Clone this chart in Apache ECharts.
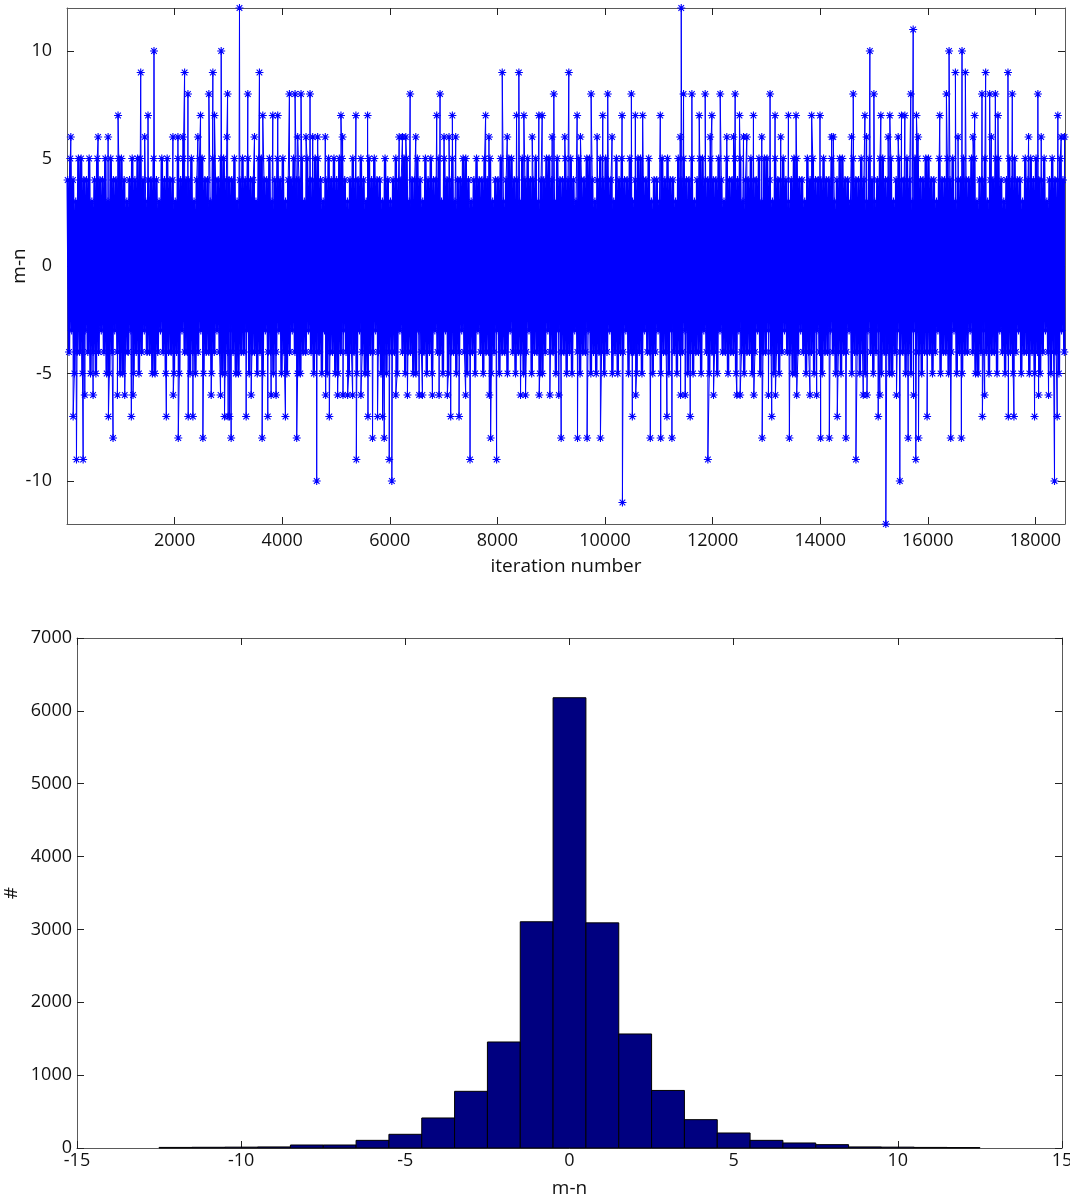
<!DOCTYPE html>
<html>
<head>
<meta charset="utf-8">
<script src="https://cdn.jsdelivr.net/npm/echarts@6/dist/echarts.min.js"></script>
<style>
html,body{margin:0;padding:0;background:#fff;}
#main{width:1070px;height:1201px;}
</style>
</head>
<body>
<div id="main"></div>
<script>
// ---- top panel: m-n per iteration ----
// band envelope, one hi / lo pair per block of 50 iterations
var BLOCK = 50;
var bandHi = [
4,5,4,3,5,5,4,4,5,3,4,5,4,4,5,3,5,4,4,5,
5,4,3,4,5,4,5,5,4,3,4,4,5,4,3,5,4,5,4,4,
3,5,4,5,4,4,5,3,4,5,5,4,4,3,5,4,4,5,5,4,
4,4,5,3,4,5,4,5,4,4,3,5,5,4,4,5,3,4,5,4,
5,3,4,4,5,4,4,5,3,5,4,4,5,5,4,3,4,5,4,5,
4,5,5,4,3,4,5,4,4,5,4,3,5,4,5,4,4,3,5,4,
3,4,5,4,4,5,5,3,4,4,5,4,3,5,4,5,4,4,5,3,
5,4,4,5,3,4,4,5,5,4,3,4,5,4,4,5,4,5,3,4,
4,5,3,4,5,5,4,4,3,5,4,5,4,4,5,3,4,4,5,5,
4,3,5,4,4,5,4,5,4,3,5,4,4,5,5,4,3,4,5,4,
5,4,4,3,5,4,5,4,4,5,3,4,5,5,4,4,5,3,4,4,
3,5,4,5,4,4,3,5,4,5,4,4,5,3,4,5,5,4,4,5,
4,4,5,4,3,5,4,4,5,4,5,3,4,4,5,4,4,5,3,5,
5,4,3,5,4,4,5,4,3,4,5,5,4,4,3,5,4,5,4,4,
4,5,4,4,5,3,4,5,5,4,4,3,5,4,4,5,4,3,5,4,
3,4,5,5,4,4,5,3,4,5,4,4,5,4,3,5,5,4,4,5,
5,4,4,3,5,4,4,5,4,5,3,4,4,5,4,4,5,5,3,4,
4,5,3,4,4,5,5,4,3,4,5,4,5,4,4,3,5,4,5,4,
5,4,4,5,3,4,5,4,4,5,4
];
var bandLo = [
-4,-3,-5,-4,-4,-5,-3,-4,-5,-4,-5,-4,-3,-4,-5,-5,-4,-3,-4,-5,
-5,-4,-4,-3,-5,-4,-5,-4,-3,-4,-4,-5,-5,-4,-3,-4,-5,-4,-4,-5,
-4,-5,-3,-4,-4,-5,-4,-5,-4,-3,-5,-4,-4,-5,-4,-3,-4,-5,-5,-4,
-3,-4,-5,-5,-4,-4,-3,-5,-4,-4,-5,-4,-5,-3,-4,-4,-5,-4,-3,-5,
-4,-5,-4,-3,-4,-5,-5,-4,-4,-3,-4,-5,-4,-4,-5,-3,-5,-4,-4,-5,
-5,-4,-3,-4,-5,-4,-4,-5,-3,-4,-5,-5,-4,-4,-3,-4,-5,-4,-5,-4,
-4,-4,-5,-3,-4,-5,-4,-4,-5,-5,-3,-4,-4,-5,-4,-5,-3,-4,-4,-5,
-3,-5,-4,-4,-5,-4,-3,-4,-5,-4,-4,-5,-3,-4,-5,-4,-4,-5,-4,-3,
-5,-4,-4,-5,-3,-4,-5,-4,-4,-5,-4,-3,-5,-4,-4,-5,-5,-4,-3,-4,
-4,-5,-3,-4,-4,-5,-4,-5,-3,-4,-5,-4,-4,-3,-5,-4,-5,-4,-4,-5,
-4,-3,-5,-4,-5,-4,-4,-3,-5,-4,-4,-5,-4,-5,-3,-4,-4,-5,-4,-3,
-5,-4,-4,-5,-3,-4,-5,-4,-4,-3,-5,-4,-5,-4,-4,-5,-3,-4,-5,-4,
-4,-5,-3,-4,-4,-5,-4,-4,-5,-3,-4,-5,-4,-4,-5,-4,-3,-5,-4,-4,
-3,-4,-5,-4,-5,-4,-3,-4,-4,-5,-5,-4,-3,-4,-5,-4,-4,-5,-3,-4,
-5,-4,-4,-3,-4,-5,-4,-5,-4,-4,-3,-5,-4,-4,-5,-4,-5,-3,-4,-5,
-4,-3,-5,-4,-4,-5,-5,-4,-3,-4,-4,-5,-4,-5,-3,-4,-4,-5,-4,-4,
-4,-5,-4,-3,-5,-4,-4,-5,-4,-3,-5,-4,-5,-4,-4,-3,-4,-5,-5,-4,
-3,-4,-5,-4,-4,-5,-3,-4,-5,-4,-4,-5,-4,-3,-5,-4,-4,-5,-4,-5,
-4,-5,-4,-3,-4,-5,-4,-4,-5,-3,-4
];
// isolated excursions [iteration, m-n]
var spikesUp = [
[71,6],[578,6],[764,6],[949,7],[1370,9],[1444,6],[1506,7],[1617,10],[1969,6],[2062,6],
[2155,6],[2186,9],[2248,8],[2433,6],[2482,7],[2637,8],[2711,9],[2742,7],[2866,10],[2971,6],
[2985,8],[3206,12],[3361,8],[3485,6],[3577,9],[3639,7],[3825,7],[3917,7],[4134,8],[4239,8],
[4288,6],[4350,8],[4443,6],[4517,8],[4567,6],[4659,6],[4801,6],[5092,7],[5123,6],[5370,7],
[5587,7],[6174,6],[6235,6],[6297,6],[6378,8],[6483,6],[6872,7],[6934,8],[7008,6],[7101,6],
[7163,7],[7225,6],[7781,7],[7843,6],[8090,9],[8183,6],[8356,7],[8399,9],[8492,7],[8647,6],
[8770,7],[8832,7],[9018,6],[9049,8],[9253,6],[9327,9],[9482,7],[9544,6],[9742,8],[9853,6],
[9958,7],[10051,8],[10131,6],[10317,7],[10490,8],[10564,7],[10700,7],[11028,7],[11398,6],[11417,12],
[11460,8],[11615,8],[11751,7],[11862,8],[11955,6],[11986,7],[12141,8],[12264,6],[12388,6],[12419,8],
[12500,7],[12574,6],[12636,6],[12759,7],[12914,6],[13068,8],[13161,7],[13266,6],[13409,7],[13551,7],
[13841,7],[13996,7],[14212,6],[14243,6],[14583,6],[14614,8],[14831,7],[14862,6],[14923,10],[14998,8],
[15127,7],[15263,6],[15294,7],[15449,6],[15511,7],[15573,7],[15684,8],[15728,11],[15789,7],[15820,6],
[16222,7],[16346,8],[16395,10],[16513,9],[16562,6],[16636,10],[16698,9],[16840,6],[16871,7],[17007,8],
[17075,9],[17150,8],[17181,6],[17255,8],[17304,7],[17490,9],[17570,8],[17873,6],[18046,8],[18108,6],
[18417,7],[18479,6],[18541,6]
];
var spikesDown = [
[114,-7],[176,-9],[300,-9],[331,-6],[485,-6],[770,-7],[856,-8],[937,-6],[1073,-6],[1196,-7],
[1227,-6],[1846,-7],[1975,-6],[2068,-8],[2253,-7],[2340,-7],[2526,-8],[2680,-6],[2854,-6],[2928,-7],
[2996,-7],[3021,-7],[3051,-8],[3330,-7],[3423,-6],[3627,-8],[3732,-7],[3794,-6],[3886,-6],[4060,-7],
[4270,-8],[4641,-10],[4808,-6],[4876,-7],[5030,-6],[5130,-6],[5216,-6],[5309,-6],[5378,-9],[5463,-6],
[5594,-7],[5679,-8],[5772,-7],[5865,-7],[5896,-8],[5989,-9],[6038,-10],[6112,-6],[6328,-6],[6545,-6],
[6606,-6],[6792,-6],[6916,-6],[7070,-6],[7132,-7],[7287,-7],[7410,-6],[7491,-9],[7850,-6],[7874,-8],
[7985,-9],[8430,-6],[8523,-6],[8777,-6],[8975,-6],[9141,-6],[9185,-8],[9489,-8],[9667,-8],[9915,-8],
[10324,-11],[10508,-7],[10571,-6],[10842,-8],[11035,-8],[11151,-7],[11244,-8],[11405,-6],[11491,-6],[11584,-7],
[11912,-9],[12017,-6],[12450,-6],[12512,-6],[12766,-6],[12921,-8],[13038,-6],[13099,-7],[13168,-6],[13427,-8],
[13563,-6],[13810,-6],[13934,-6],[14008,-8],[14169,-8],[14317,-7],[14478,-8],[14664,-9],[14800,-6],[14869,-6],
[15078,-7],[15109,-6],[15220,-12],[15418,-6],[15480,-10],[15635,-8],[15735,-6],[15777,-9],[15827,-8],[15987,-7],
[16426,-8],[16624,-8],[17014,-7],[17057,-6],[17497,-7],[17601,-7],[17984,-7],[18059,-6],[18244,-6],[18355,-10],
[18405,-7]
];
var iterTicks = [2000,4000,6000,8000,10000,12000,14000,16000,18000];
var mnTicks = [-10,-5,0,5,10];

// ---- bottom panel: histogram of m-n ----
var histBins = [-12,-11,-10,-9,-8,-7,-6,-5,-4,-3,-2,-1,0,1,2,3,4,5,6,7,8,9,10,11,12];
var histCounts = [8,10,12,15,41,41,105,188,412,778,1455,3105,6180,3090,1565,790,389,206,105,69,46,15,12,8,6];

var bandPts = [];
bandHi.forEach(function(v, i){
    bandPts.push([i*BLOCK + 12, v]);
    bandPts.push([i*BLOCK + 37, bandLo[i]]);
});
var pts = bandPts.slice();
spikesUp.concat(spikesDown).forEach(function(p){ pts.push([p[0], p[1]]); });
pts.sort(function(a, b){ return a[0] - b[0]; });

var histData = histBins.map(function(b, i){ return [b, histCounts[i]]; });

var FONT = '"Open Sans", "DejaVu Sans", sans-serif';
var frame = '#5a5a5a';
function plain(v){ return String(v); }
function tick(vals){
    var t = {show: true, inside: true, length: 7, lineStyle: {color: '#222'}};
    if (vals) t.customValues = vals;
    return t;
}
function label(margin, vals){
    var l = {color: '#111', fontFamily: FONT, fontSize: 18, margin: margin, formatter: plain};
    if (vals) l.customValues = vals;
    return l;
}
function axisCommon(extra){
    var o = {
        axisLine: {show: true, onZero: false, lineStyle: {color: frame, width: 1}},
        axisTick: tick(),
        splitLine: {show: false},
        axisLabel: {show: false},
        nameMoveOverlap: false,
        nameTextStyle: {color: '#111', fontFamily: FONT, fontSize: 19}
    };
    for (var k in extra) o[k] = extra[k];
    return o;
}
function trace(points, width){
    return function(params, api){
        return {
            type: 'polyline',
            shape: {points: points.map(function(p){ return api.coord(p); })},
            style: {stroke: '#0000ff', lineWidth: width, fill: null}
        };
    };
}
var asterisk = 'path://M5,0L5,10M0,5L10,5M1.5,1.5L8.5,8.5M1.5,8.5L8.5,1.5';

var myChart = echarts.init(document.getElementById('main'));
var option = {
    animation: false,
    backgroundColor: '#fff',
    grid: [
        {left: 67, right: 5, top: 8, height: 516, outerBoundsMode: 'none'},
        {left: 77, right: 8, top: 638, height: 510, outerBoundsMode: 'none'}
    ],
    xAxis: [
        axisCommon({gridIndex: 0, type: 'value', min: 0, max: 18550, position: 'bottom',
            name: 'iteration number', nameLocation: 'middle', nameGap: 33,
            axisTick: tick(iterTicks), axisLabel: label(8, iterTicks)}),
        axisCommon({gridIndex: 0, type: 'value', min: 0, max: 18550, position: 'top',
            axisTick: tick(iterTicks)}),
        axisCommon({gridIndex: 1, type: 'value', min: -15, max: 15, interval: 5, position: 'bottom',
            name: 'm-n', nameLocation: 'middle', nameGap: 31,
            axisLabel: label(4)}),
        axisCommon({gridIndex: 1, type: 'value', min: -15, max: 15, interval: 5, position: 'top'})
    ],
    yAxis: [
        axisCommon({gridIndex: 0, type: 'value', min: -12, max: 12, position: 'left',
            name: 'm-n', nameLocation: 'middle', nameGap: 38,
            axisTick: tick(mnTicks), axisLabel: label(15, mnTicks)}),
        axisCommon({gridIndex: 0, type: 'value', min: -12, max: 12, position: 'right',
            axisTick: tick(mnTicks)}),
        axisCommon({gridIndex: 1, type: 'value', min: 0, max: 7000, interval: 1000, position: 'left',
            name: '#', nameLocation: 'middle', nameGap: 56,
            axisLabel: label(5)}),
        axisCommon({gridIndex: 1, type: 'value', min: 0, max: 7000, interval: 1000, position: 'right'})
    ],
    series: [{
        // dense core of the trace (many samples per pixel in the original)
        type: 'custom',
        xAxisIndex: 0,
        yAxisIndex: 0,
        data: [0],
        silent: true,
        renderItem: trace(bandPts, 2.4)
    }, {
        // full trace including the excursions
        type: 'custom',
        xAxisIndex: 0,
        yAxisIndex: 0,
        data: [0],
        silent: true,
        renderItem: trace(pts, 1)
    }, {
        // '*' markers at every point
        type: 'scatter',
        xAxisIndex: 0,
        yAxisIndex: 0,
        data: pts,
        silent: true,
        symbol: asterisk,
        symbolSize: 8,
        itemStyle: {color: '#0000ff', borderColor: '#0000ff', borderWidth: 1.1, opacity: 1}
    }, {
        type: 'custom',
        xAxisIndex: 2,
        yAxisIndex: 2,
        data: histData,
        encode: {x: 0, y: 1},
        renderItem: function(params, api){
            var x = api.value(0), y = api.value(1);
            var p0 = api.coord([x - 0.5, y]);
            var p1 = api.coord([x + 0.5, 0]);
            return {
                type: 'rect',
                shape: {x: p0[0], y: p0[1], width: p1[0] - p0[0], height: p1[1] - p0[1]},
                style: {fill: '#000080', stroke: '#000', lineWidth: 1}
            };
        }
    }]
};
myChart.setOption(option);
</script>
</body>
</html>
